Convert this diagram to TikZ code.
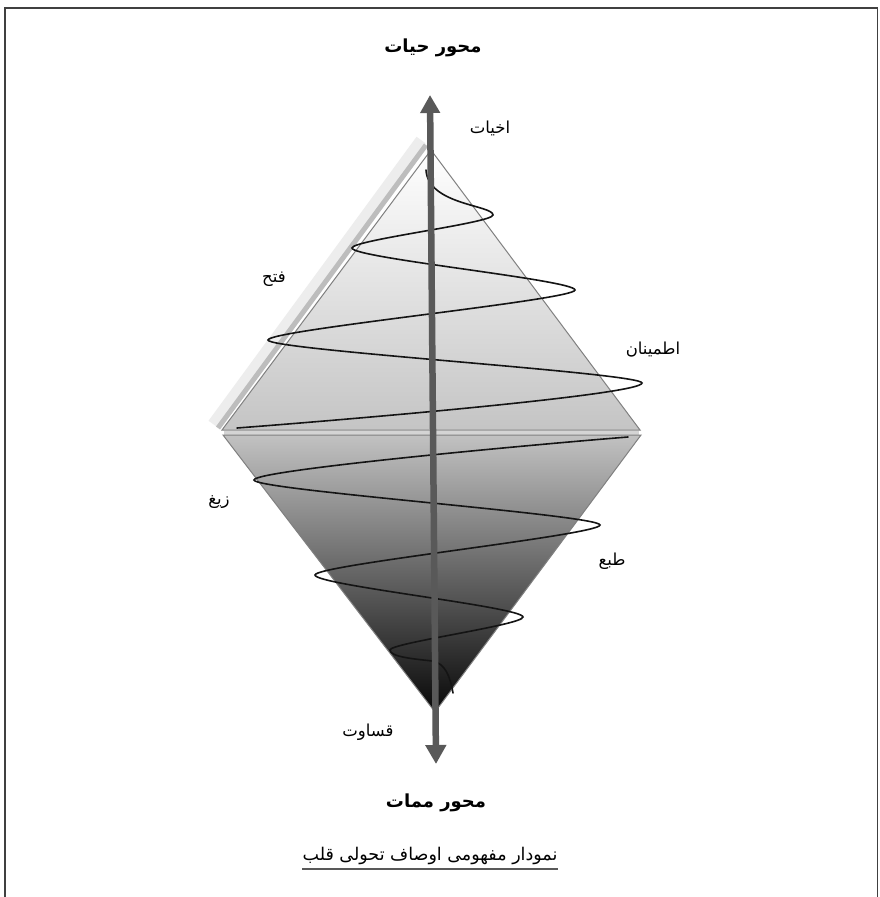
\documentclass[tikz,border=0pt]{standalone}
\usepackage{fontspec}
\newfontfamily\arabicfont[Script=Arabic]{DejaVu Sans}
\TeXXeTstate=1
\usetikzlibrary{arrows.meta}
\definecolor{shaftc}{HTML}{595959}
\definecolor{edgec}{HTML}{808080}
\begin{document}
\begin{tikzpicture}[x=1pt,y=-1pt,
  lbl/.style={font=\arabicfont\fontsize{16.5}{19}\selectfont, inner sep=0pt},
  ttl/.style={font=\arabicfont\bfseries\fontsize{18}{21}\selectfont, inner sep=0pt},
  spiral/.style={line width=1.6pt, color=black!92, line cap=round}]
\useasboundingbox (0,0) rectangle (880,897);
\fill[white] (0,0) rectangle (880,897);
% frame
\draw[line width=1.6pt, color=black!75] (5,900) -- (5,8) -- (877.5,8) -- (877.5,900);
% bevel on upper-left edge
\draw[line width=11pt, color=black!7] (421,140) -- (213,424);
\draw[line width=5pt, color=black!26] (426,145) -- (218,428);
% upper triangle
\shadedraw[top color=white, bottom color=black!23, draw=edgec, line width=1pt]
  (431,150) -- (640,430) -- (222,430) -- cycle;
% gap strip
\fill[black!17] (224,430.5) rectangle (639,434.5);
% lower triangle
\shadedraw[top color=black!24, bottom color=black!97, draw=edgec, line width=1pt]
  (223,435) -- (641,435) -- (435,712) -- cycle;
% upper spiral
\draw[spiral] (426,170) .. controls (428,205) and (493,205) .. (493,215)
  .. controls (493,223) and (352,240) .. (352,248)
  .. controls (352,258) and (575,280) .. (575,290)
  .. controls (575,300) and (268,330) .. (268,340)
  .. controls (268,350) and (642,373) .. (642,383)
  .. controls (642,395) and (330,421) .. (237,428);
% lower spiral
\draw[spiral] (628,437) .. controls (540,444) and (254,470) .. (254,480)
  .. controls (254,490) and (600,515) .. (600,525)
  .. controls (600,535) and (315,565) .. (315,575)
  .. controls (315,585) and (523,607) .. (523,617)
  .. controls (523,625) and (390,643) .. (390,650)
  .. controls (390,657) and (415,659) .. (432,661)
  .. controls (445,663) and (450,676) .. (453,693);
% axis arrow
\coordinate (atop) at (430,95);
\coordinate (abot) at (436,764);
\draw[shaftc, line width=6.5pt,
  {Triangle[length=18pt,width=19pt]}-{Triangle[length=19pt,width=20pt]}] (atop) -- (abot);
% labels
\node[ttl] (t1) at (433,48) {\beginR محور حیات\endR};
\node[lbl] (l1) at (490,128) {\beginR اخیات\endR};
\node[lbl] (l2) at (274,279) {\beginR فتح\endR};
\node[lbl] (l3) at (653,350) {\beginR اطمینان\endR};
\node[lbl] (l4) at (219,502) {\beginR زیغ\endR};
\node[lbl] (l5) at (612,561) {\beginR طبع\endR};
\node[lbl] (l6) at (368,732) {\beginR قساوت\endR};
\node[ttl] (t2) at (436,803) {\beginR محور ممات\endR};
\node[lbl, font=\arabicfont\fontsize{17.5}{20}\selectfont] (cap) at (430,856) {\beginR نمودار مفهومی اوصاف تحولی قلب\endR};
\draw[line width=1.5pt, color=black!65] ([yshift=-4pt]cap.south west) -- ([yshift=-4pt]cap.south east);
\end{tikzpicture}
\end{document}
